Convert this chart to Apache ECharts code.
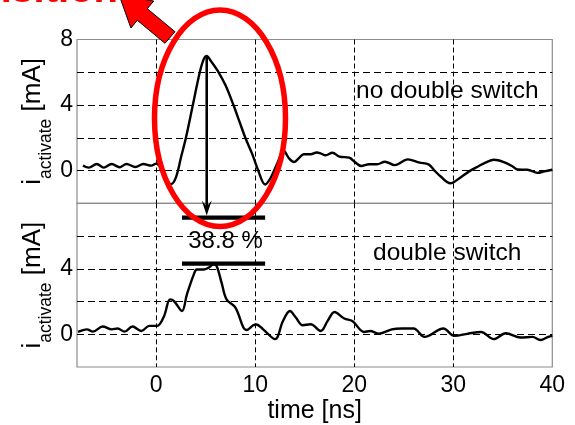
<!DOCTYPE html>
<html><head><meta charset="utf-8">
<script src="https://cdn.jsdelivr.net/npm/echarts@6/dist/echarts.min.js"></script>
<style>html,body{margin:0;padding:0;background:#fff}#c{width:575px;height:425px}</style>
</head><body><div id="c"></div>
<script>
// ---- data (time in ns, current in mA) ----
const timeTop = [-7.4,-6.8,-6.0,-5.3,-4.5,-3.7,-3.0,-2.1,-1.3,-0.5,0.0,0.5,1.0,1.5,2.0,2.5,3.0,3.7,4.4,4.8,5.1,5.5,6.3,7.0,7.8,8.4,9.0,9.7,10.3,11.0,11.6,12.2,12.9,13.4,13.9,14.4,14.9,15.6,16.2,16.6,17.1,17.8,18.5,19.5,20.0,20.7,21.5,22.3,23.1,24.1,25.4,26.6,27.5,28.1,28.7,29.7,30.8,31.6,32.5,33.3,34.1,35.1,36.0,36.5,37.5,38.5,39.2,40.0];
const currTop = [0.30,0.18,0.40,0.18,0.40,0.20,0.40,0.22,0.40,0.30,0.42,0.10,-0.55,-0.83,-0.40,0.80,2.00,4.00,6.00,6.80,7.00,6.70,6.00,5.20,4.00,3.00,2.00,1.00,0.00,-0.85,-0.40,0.40,1.19,0.75,0.52,0.75,0.99,0.99,1.10,1.05,0.93,1.09,0.85,0.79,0.55,0.28,0.38,0.38,0.54,0.33,0.68,0.48,0.38,0.00,-0.35,-0.78,-0.39,-0.05,0.25,0.50,0.66,0.52,0.25,0.06,0.05,-0.14,-0.05,0.05];
const timeBot = [-7.9,-7.0,-6.4,-5.4,-4.5,-3.9,-3.2,-2.4,-1.5,-0.7,0.1,0.8,1.4,1.8,2.6,3.1,3.8,4.1,4.8,5.3,5.8,6.1,6.6,7.1,8.0,8.8,9.1,9.8,10.1,10.8,12.0,12.8,13.5,14.1,14.8,15.6,16.6,17.3,18.0,19.0,19.8,21.0,21.6,22.5,23.8,24.8,26.0,27.1,29.0,30.1,31.5,32.8,34.1,35.3,36.8,38.0,38.8,39.6,40.0];
const currBot = [0.14,0.30,0.16,0.47,0.30,0.35,0.16,0.47,0.20,0.51,0.51,1.12,2.13,2.03,1.42,2.44,3.66,3.96,3.96,4.07,4.27,4.17,3.15,2.13,1.63,0.41,0.26,0.55,0.60,0.30,-0.30,0.81,1.42,1.02,0.55,0.61,0.20,0.80,1.36,0.96,0.81,0.14,0.20,0.04,0.30,0.35,0.35,-0.16,0.35,-0.10,0.04,0.14,-0.30,0.06,-0.20,-0.16,-0.35,-0.16,-0.10];
const xGridValues = [0,10,20,30];
const xTickLabels = [0,10,20,30,40];
const yGridValues = [0,2,4,6];
const yLabelsTop = [0,4,8];
const yLabelsBot = [0,4];
const textTop = 'no double switch';
const textBot = 'double switch';
const dropText = '38.8 %';
const dropLevels = [7.13, 4.31];   // reference bars, on the lower panel's scale
const dropBarRange = [2.6, 11.0];  // ns
const yName = '{m|i}{s|activate}{m| [mA]}';
const xName = 'time [ns]';
const cutTitle = 'Transition';

const F = '"Liberation Sans", Arial, Helvetica, sans-serif';
const pair = (a, b) => a.map((t, i) => [t, b[i]]);

const gridBox = [{left: 77, top: 39.5, width: 475.3, height: 163.8},
                 {left: 77, top: 203.3, width: 475.3, height: 164}];

const rich = {
  m: {fontSize: 26, lineHeight: 44, fontFamily: F, color: '#000'},
  s: {fontSize: 17.5, lineHeight: 17.5, verticalAlign: 'bottom', fontFamily: F, color: '#000'}
};

function xAxis(idx, showLabels) {
  return {
    type: 'value', gridIndex: idx, min: -8, max: 40,
    axisLine: {show: false},
    axisTick: {show: false, customValues: xGridValues},
    axisLabel: showLabels ? {customValues: xTickLabels, fontSize: 23, fontFamily: F, color: '#000', margin: 7} : {show: false},
    splitLine: {show: true, lineStyle: {color: '#000', width: 1, type: [5, 3]}},
    name: showLabels ? xName : '', nameLocation: 'middle', nameGap: 32, nameMoveOverlap: false,
    nameTextStyle: {fontSize: 25, fontFamily: F, color: '#000'}
  };
}
function yAxis(idx, labels) {
  return {
    type: 'value', gridIndex: idx, min: -2, max: 8, interval: 2,
    axisLine: {show: false},
    axisTick: {show: false, customValues: yGridValues},
    axisLabel: {customValues: labels, fontSize: 23, fontFamily: F, color: '#000', margin: 4},
    splitLine: {show: true, lineStyle: {color: '#000', width: 1, type: [7, 4]}},
    name: yName, nameLocation: 'middle', nameRotate: 90, nameGap: 22, nameMoveOverlap: false,
    nameTextStyle: {rich: rich}
  };
}

const option = {
  animation: false,
  backgroundColor: '#fff',
  grid: gridBox.map(g => Object.assign({show: true, borderColor: '#8c8c8c', borderWidth: 1.2, backgroundColor: 'transparent'}, g)),
  xAxis: [xAxis(0, false), xAxis(1, true)],
  yAxis: [yAxis(0, yLabelsTop), yAxis(1, yLabelsBot)],
  series: [
    {type: 'line', xAxisIndex: 0, yAxisIndex: 0, data: pair(timeTop, currTop), showSymbol: false, smooth: 0.35,
     lineStyle: {color: '#000', width: 2.4}, z: 3},
    {type: 'line', xAxisIndex: 1, yAxisIndex: 1, data: pair(timeBot, currBot), showSymbol: false, smooth: 0.35,
     lineStyle: {color: '#000', width: 2.4}, z: 3}
  ]
};

const chart = echarts.init(document.getElementById('c'));
chart.setOption(option);

// annotations
const iPk = currTop.indexOf(Math.max(...currTop));
const pk = chart.convertToPixel({xAxisIndex: 0, yAxisIndex: 0}, [timeTop[iPk], currTop[iPk]]);
const b1a = chart.convertToPixel({xAxisIndex: 1, yAxisIndex: 1}, [dropBarRange[0], dropLevels[0]]);
const b1b = chart.convertToPixel({xAxisIndex: 1, yAxisIndex: 1}, [dropBarRange[1], dropLevels[0]]);
const b2a = chart.convertToPixel({xAxisIndex: 1, yAxisIndex: 1}, [dropBarRange[0], dropLevels[1]]);
const b2b = chart.convertToPixel({xAxisIndex: 1, yAxisIndex: 1}, [dropBarRange[1], dropLevels[1]]);
const tipY = b1a[1] - 2;
const ax = pk[0];

const graphic = [
  {type: 'line', shape: {x1: b1a[0], y1: b1a[1], x2: b1b[0], y2: b1b[1]}, style: {stroke: '#000', lineWidth: 4.3}, z: 10},
  {type: 'line', shape: {x1: b2a[0], y1: b2a[1], x2: b2b[0], y2: b2b[1]}, style: {stroke: '#000', lineWidth: 4.3}, z: 10},
  {type: 'line', shape: {x1: ax, y1: pk[1], x2: ax, y2: tipY - 8}, style: {stroke: '#000', lineWidth: 2.6}, z: 10},
  {type: 'polygon', shape: {points: [[ax, tipY], [ax - 5, tipY - 15], [ax, tipY - 9], [ax + 5, tipY - 15]]}, style: {fill: '#000'}, z: 10},
  {type: 'text', x: (b2a[0] + b2b[0]) / 2 + 2, y: 241, style: {text: dropText, font: '24px ' + F, fill: '#000', textAlign: 'center', textVerticalAlign: 'middle'}, z: 10},
  {type: 'text', x: 356, y: 91.5, style: {text: textTop, font: '24.5px ' + F, fill: '#000', textAlign: 'left', textVerticalAlign: 'middle'}, z: 10},
  {type: 'text', x: 373, y: 253.7, style: {text: textBot, font: '24.5px ' + F, fill: '#000', textAlign: 'left', textVerticalAlign: 'middle'}, z: 10},
  {type: 'ellipse', shape: {cx: 220, cy: 118.3, rx: 65.5, ry: 108.3}, style: {fill: 'none', stroke: '#ff0000', lineWidth: 5.5}, z: 20},
  {type: 'polygon', shape: {points: [[175, 31.7], [147.3, 8.7], [153.7, 1], [119.2, -4.7], [130.9, 28], [137.3, 20.3], [165, 43.3]]},
   style: {fill: '#ff0000', stroke: '#000', lineWidth: 1}, z: 20},
  {type: 'text', x: 118, y: 11, style: {text: cutTitle, font: 'bold 40px ' + F, fill: '#ff0000', textAlign: 'right', textVerticalAlign: 'bottom'}, z: 20}
];
chart.setOption({graphic: graphic});
</script>
</body></html>
